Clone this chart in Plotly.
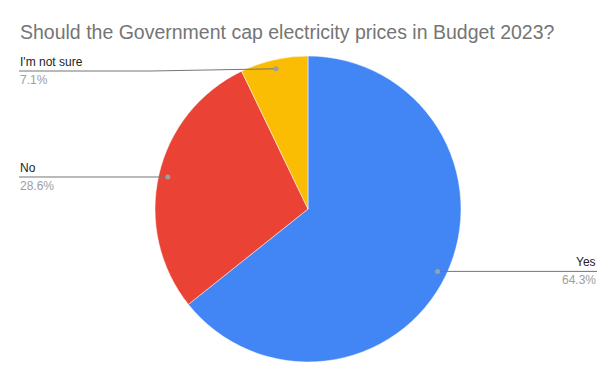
import math
import plotly.graph_objects as go

labels = ["Yes", "No", "I'm not sure"]
values = [9, 4, 1]
colors = ["#4285F4", "#EA4335", "#FBBC04"]
title = "Should the Government cap electricity prices in Budget 2023?"

OFF = 8  # page body margin
W, H = 616 - OFF, 381 - OFF
CX, CY, R = 308 - OFF, 209 - OFF, 153
LEFT_X, RIGHT_X = 19 - OFF, 597 - OFF
MIN_LINE_Y = 71 - OFF
FONT = "Liberation Sans, Arial, sans-serif"

def px(x):
    return x / W

def py(y):
    return 1 - y / H

fig = go.Figure(go.Pie(
    labels=labels, values=values, sort=False, direction="clockwise", rotation=0,
    marker=dict(colors=colors, line=dict(color="white", width=0.5)),
    textinfo="none", hoverinfo="label+percent", showlegend=False,
    domain=dict(x=[px(CX - R), px(CX + R)], y=[py(CY + R), py(CY - R)]),
))

total = sum(values)
shapes, annotations = [], []
cum = 0
for lab, v in zip(labels, values):
    mid = (cum + v / 2) / total * 2 * math.pi
    cum += v
    dx, dy = math.sin(mid), -math.cos(mid)
    x0, y0 = CX + 0.94 * R * dx, CY + 0.94 * R * dy
    right = dx > 0
    ly = max(y0, MIN_LINE_Y)
    xend = RIGHT_X if right else LEFT_X
    xbend = x0 + (40 if right else -125) if abs(ly - y0) > 0.5 else x0
    path = f"M {px(x0)},{py(y0)} L {px(xbend)},{py(ly)} L {px(xend)},{py(ly)}"
    shapes.append(dict(type="path", xref="paper", yref="paper", path=path,
                       line=dict(color="#757575", width=1)))
    shapes.append(dict(type="circle", xref="paper", yref="paper",
                       x0=px(x0 - 2.5), x1=px(x0 + 2.5), y0=py(y0 + 2.5), y1=py(y0 - 2.5),
                       fillcolor="#9e9e9e", line=dict(width=0)))
    anchor = "right" if right else "left"
    annotations.append(dict(text=lab, x=px(xend), y=py(ly - 9), xref="paper", yref="paper",
                            xanchor=anchor, yanchor="middle", showarrow=False,
                            xshift=(1 if right else -1) * 1,
                            font=dict(family=FONT, size=12, color="#222222")))
    annotations.append(dict(text=f"{v / total * 100:.1f}%", x=px(xend), y=py(ly + 9),
                            xref="paper", yref="paper", xanchor=anchor, yanchor="middle",
                            showarrow=False, xshift=(1 if right else -1) * 1,
                            font=dict(family=FONT, size=12, color="#9e9e9e")))

annotations.append(dict(text=title, x=px(LEFT_X), y=py(32 - OFF), xref="paper", yref="paper",
                        xanchor="left", yanchor="middle", showarrow=False, xshift=-1,
                        font=dict(family=FONT, size=19.5, color="#757575")))

fig.update_layout(
    width=W, height=H, margin=dict(l=0, r=0, t=0, b=0),
    paper_bgcolor="white", plot_bgcolor="white",
    shapes=shapes, annotations=annotations,
)
fig.write_html("out.html")
